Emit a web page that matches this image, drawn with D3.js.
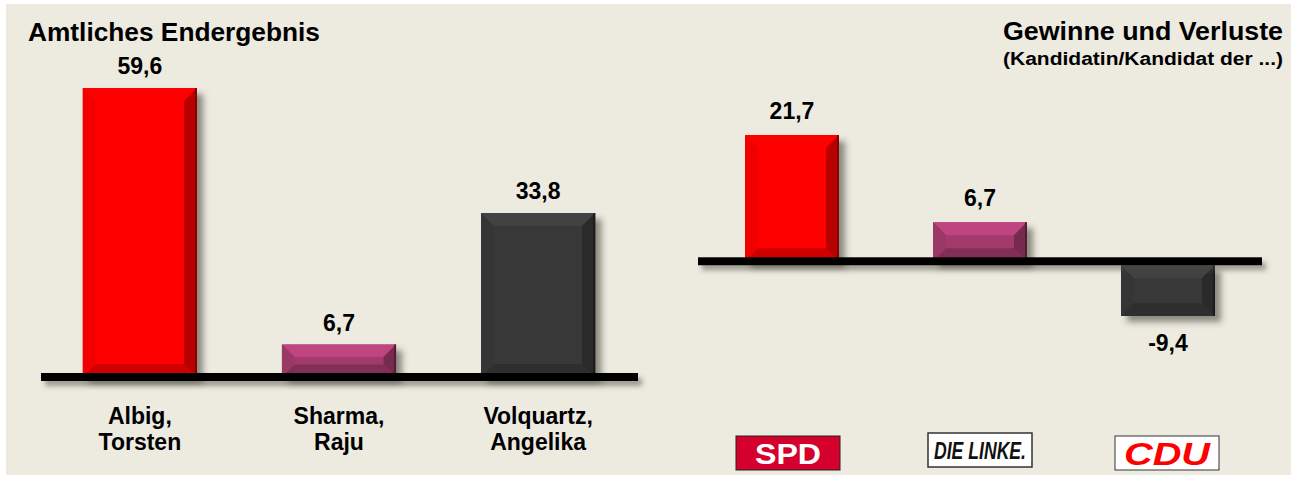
<!DOCTYPE html>
<html>
<head>
<meta charset="utf-8">
<script src="https://cdn.jsdelivr.net/npm/d3@7"></script>
<style>
  body { margin: 0; background: #fff; }
  text { font-family: 'Liberation Sans', Arial, sans-serif; font-weight: bold; }
</style>
</head>
<body>
<div id="chart"></div>
<script>
// data
const candidates = ['Albig, Torsten', 'Sharma, Raju', 'Volquartz, Angelika']
const results = [59.6, 6.7, 33.8]
const parties = ['SPD', 'DIE LINKE', 'CDU']
const changes = [21.7, 6.7, -9.4]
const barColors = ['#ff0000', '#a23a6c', '#393939']

const svgWidth = 1291
const svgHeight = 479

const de = d3.formatLocale({ decimal: ',', thousands: '.', grouping: [3], currency: ['', ' €'], minus: '-' })
const fmt = de.format('.1f')

const svg = d3.select('#chart').append('svg').attr('width', svgWidth).attr('height', svgHeight)

// drop shadow
const defs = svg.append('defs')
const f = defs.append('filter').attr('id', 'shadow').attr('x', '-20%').attr('y', '-20%').attr('width', '150%').attr('height', '160%')
f.append('feDropShadow').attr('dx', 6).attr('dy', 6).attr('stdDeviation', 3)
  .attr('flood-color', '#3a3a30').attr('flood-opacity', 0.55)
const f2 = defs.append('filter').attr('id', 'lineShadow').attr('x', '-5%').attr('y', '-100%').attr('width', '110%').attr('height', '400%')
f2.append('feDropShadow').attr('dx', 4).attr('dy', 5).attr('stdDeviation', 2.5)
  .attr('flood-color', '#4a4a40').attr('flood-opacity', 0.5)

// background panel
svg.append('rect').attr('x', 6).attr('y', 4).attr('width', svgWidth - 6).attr('height', 471).attr('fill', '#edeae0')

// bevelled bar
function bevelBar(g, x, y, w, h, color) {
  const b = Math.min(13, h / 2.6, w / 4)
  const c = d3.color(color)
  const grp = g.append('g').attr('filter', 'url(#shadow)')
  grp.append('rect').attr('x', x).attr('y', y).attr('width', w).attr('height', h).attr('fill', color)
  const poly = (pts, fill) => grp.append('polygon').attr('points', pts.map(p => p.join(',')).join(' ')).attr('fill', fill)
  poly([[x, y], [x + w, y], [x + w - b, y + b], [x + b, y + b]], c.brighter(0.45))
  poly([[x, y], [x + b, y + b], [x + b, y + h - b], [x, y + h]], c.darker(0.15))
  poly([[x + w, y], [x + w - b, y + b], [x + w - b, y + h - b], [x + w, y + h]], c.darker(0.9))
  poly([[x, y + h], [x + b, y + h - b], [x + w - b, y + h - b], [x + w, y + h]], c.darker(0.6))
  grp.append('rect').attr('x', x + w - 2).attr('y', y).attr('width', 2).attr('height', h).attr('fill', c.darker(1.8))
}

// ---------- left chart: Amtliches Endergebnis ----------
const left = svg.append('g')
left.append('text').attr('x', 28).attr('y', 41).attr('font-size', 25)
  .attr('textLength', 292).attr('lengthAdjust', 'spacingAndGlyphs').text('Amtliches Endergebnis')

const xL = d3.scaleBand().domain(candidates).range([41, 637]).paddingInner(0.427).paddingOuter(0.21)
const yL = d3.scaleLinear().domain([0, 59.6]).range([377, 88])

candidates.forEach((c, i) => {
  const v = results[i]
  bevelBar(left, xL(c), yL(v), xL.bandwidth(), yL(0) - yL(v), barColors[i])
  left.append('text').attr('x', xL(c) + xL.bandwidth() / 2).attr('y', yL(v) - 14)
    .attr('text-anchor', 'middle').attr('font-size', 23).text(fmt(v))
  const parts = c.split(', ')
  const t = left.append('text').attr('text-anchor', 'middle').attr('font-size', 23)
  t.append('tspan').attr('x', xL(c) + xL.bandwidth() / 2).attr('y', 424).text(parts[0] + ',')
  t.append('tspan').attr('x', xL(c) + xL.bandwidth() / 2).attr('y', 450).text(parts[1])
})
left.append('rect').attr('x', 41).attr('y', yL(0) - 4).attr('width', 597).attr('height', 8)
  .attr('fill', '#000').attr('filter', 'url(#lineShadow)')

// ---------- right chart: Gewinne und Verluste ----------
const right = svg.append('g')
right.append('text').attr('x', 1283).attr('y', 40).attr('text-anchor', 'end').attr('font-size', 25)
  .attr('textLength', 280).attr('lengthAdjust', 'spacingAndGlyphs').text('Gewinne und Verluste')
right.append('text').attr('x', 1283).attr('y', 65).attr('text-anchor', 'end').attr('font-size', 18)
  .attr('textLength', 280).attr('lengthAdjust', 'spacingAndGlyphs').text('(Kandidatin/Kandidat der ...)')

const xR = d3.scaleBand().domain(parties).range([698, 1262]).paddingInner(0.5).paddingOuter(0.25)
const yR = d3.scaleLinear().domain([-9.4, 21.7]).range([316, 135])

parties.forEach((p, i) => {
  const v = changes[i]
  const y0 = yR(0), y1 = yR(v)
  const top = v >= 0 ? y1 : y0 + 4
  const h = v >= 0 ? y0 - y1 : y1 - y0 - 4
  bevelBar(right, xR(p), top, xR.bandwidth(), h, barColors[i])
  const cx = xR(p) + xR.bandwidth() / 2
  right.append('text').attr('x', cx).attr('y', v >= 0 ? y1 - 16 : y1 + 35)
    .attr('text-anchor', 'middle').attr('font-size', 23).text(fmt(v))
})
right.append('rect').attr('x', 698).attr('y', yR(0) - 4).attr('width', 564).attr('height', 8)
  .attr('fill', '#000').attr('filter', 'url(#lineShadow)')

// party logos
const logoW = 104, logoH = 34
const logoShift = [-4, 0, -1]
parties.forEach((p, i) => {
  const cx = xR(p) + xR.bandwidth() / 2 + logoShift[i]
  const g = right.append('g').attr('transform', `translate(${cx - logoW / 2}, ${i === 1 ? 433 : 436})`)
  if (p === 'SPD') {
    g.append('rect').attr('width', logoW).attr('height', logoH).attr('fill', '#d5002c').attr('stroke', '#222').attr('stroke-width', 1)
    g.append('text').attr('x', logoW / 2).attr('y', 28).attr('text-anchor', 'middle')
      .attr('font-size', 30).attr('fill', '#fff').attr('font-family', 'DejaVu Sans')
      .attr('textLength', 66).attr('lengthAdjust', 'spacingAndGlyphs').text('SPD')
  } else if (p === 'DIE LINKE') {
    g.append('rect').attr('width', logoW).attr('height', logoH).attr('fill', '#fff').attr('stroke', '#333').attr('stroke-width', 1.5)
    g.append('text').attr('x', logoW / 2).attr('y', 26).attr('text-anchor', 'middle')
      .attr('font-size', 23).attr('font-style', 'italic').attr('fill', '#111').attr('font-family', 'DejaVu Sans Condensed')
      .attr('textLength', 92).attr('lengthAdjust', 'spacingAndGlyphs').text('DIE LINKE.')
  } else {
    g.append('rect').attr('width', logoW).attr('height', logoH).attr('fill', '#fff').attr('stroke', '#333').attr('stroke-width', 1)
    g.append('text').attr('x', logoW / 2).attr('y', 29).attr('text-anchor', 'middle')
      .attr('font-size', 32).attr('font-style', 'italic').attr('fill', '#ff0000').attr('font-family', 'DejaVu Sans')
      .attr('textLength', 86).attr('lengthAdjust', 'spacingAndGlyphs').text('CDU')
  }
})
</script>
</body>
</html>
